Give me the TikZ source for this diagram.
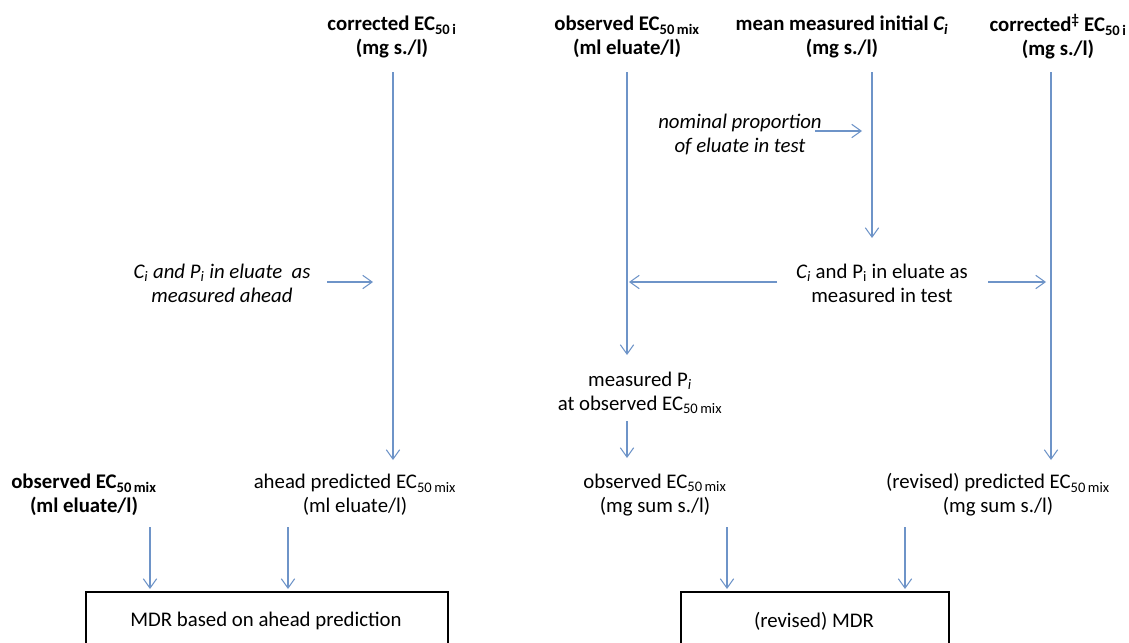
\documentclass[tikz,border=0pt]{standalone}
\usepackage{fontspec}
\setmainfont{Carlito}
\usetikzlibrary{arrows.meta}
\definecolor{arrowblue}{RGB}{110,148,200}
\tikzset{
  lbl/.style={align=center, inner sep=0pt, font=\fontsize{15.6}{18}\selectfont},
  blbl/.style={lbl, font=\fontsize{15.6}{18}\selectfont\bfseries},
  ilbl/.style={lbl, font=\fontsize{15.6}{18}\selectfont\itshape},
  conn/.style={draw=arrowblue, line width=0.8pt, -{Straight Barb[length=7pt,width=10pt,line width=0.8pt]}},
  resbox/.style={draw=black, line width=1.5pt, minimum height=0pt}
}
\newcommand{\ECsub}[1]{EC\textsubscript{50\,#1}}
\begin{document}
\begin{tikzpicture}[x=0.75pt,y=-0.75pt]
\useasboundingbox (0,0) rectangle (1129,643);
\clip (0,0) rectangle (1129,643);
% top labels
\node[blbl] (tA) at (392,37) {corrected \ECsub{i}\\(mg s./l)};
\node[blbl] (tB) at (627,37) {observed \ECsub{mix}\\(ml eluate/l)};
\node[blbl] (tC) at (842,37) {mean measured initial \textit{C\textsubscript{i}}\\(mg s./l)};
\node[blbl] (tD) at (1058,37) {corrected\textsuperscript{‡} \ECsub{i}\\(mg s./l)};
% side labels
\node[ilbl] (nom) at (740,134) {nominal proportion\\of eluate in test};
\node[ilbl] (ahd) at (222,283) {\textit{C}\textsubscript{i} and \textit{P}\textsubscript{i} in eluate\ \ as\\measured ahead};
\node[lbl] (tst) at (882,283) {\textit{C\textsubscript{i}} and P\textsubscript{i} in eluate as\\measured in test};
\node[lbl] (mP) at (640,393) {measured P\textsubscript{\textit{i}}\\at observed \ECsub{mix}};
% bottom labels
\node[blbl] (bA) at (84,495) {observed \ECsub{mix}\\(ml eluate/l)};
\node[lbl] (bB) at (355,495) {ahead predicted \ECsub{mix}\\(ml eluate/l)};
\node[lbl] (bC) at (655,495) {observed \ECsub{mix}\\(mg sum s./l)};
\node[lbl] (bD) at (998,495) {(revised) predicted \ECsub{mix}\\(mg sum s./l)};
% result boxes
\node[resbox, minimum width=362*0.75pt, minimum height=120*0.75pt, anchor=north west, inner sep=0pt] (mdr1) at (85,591) {};
\node[lbl] (mdr1t) at (266,621) {MDR\ based on ahead prediction};
\node[resbox, minimum width=268*0.75pt, minimum height=120*0.75pt, anchor=north west, inner sep=0pt] (mdr2) at (680,591) {};
\node[lbl] (mdr2t) at (814,621) {(revised) MDR};
% coordinates for connector ends
\coordinate (a1) at (393,72);  \coordinate (a2) at (393,460);
\coordinate (b1) at (627,72);  \coordinate (b2) at (627,355);
\coordinate (c1) at (872,72);  \coordinate (c2) at (872,238);
\coordinate (d1) at (1051,72); \coordinate (d2) at (1051,460);
\coordinate (n1) at (815,131); \coordinate (n2) at (862,131);
\coordinate (h1) at (327,282); \coordinate (h2) at (373,282);
\coordinate (t1) at (777,282); \coordinate (t2) at (629,282);
\coordinate (t3) at (988,282); \coordinate (t4) at (1046,282);
\coordinate (m1) at (627,421); \coordinate (m2) at (627,458);
\coordinate (e1) at (150,527); \coordinate (e2) at (150,589);
\coordinate (f1) at (288,527); \coordinate (f2) at (288,589);
\coordinate (g1) at (727,527); \coordinate (g2) at (727,589);
\coordinate (k1) at (905,527); \coordinate (k2) at (905,589);
% connectors
\draw[conn] (a1) -- (a2);
\draw[conn] (b1) -- (b2);
\draw[conn] (c1) -- (c2);
\draw[conn] (d1) -- (d2);
\draw[conn] (n1) -- (n2);
\draw[conn] (h1) -- (h2);
\draw[conn] (t1) -- (t2);
\draw[conn] (t3) -- (t4);
\draw[conn] (m1) -- (m2);
\draw[conn] (e1) -- (e2);
\draw[conn] (f1) -- (f2);
\draw[conn] (g1) -- (g2);
\draw[conn] (k1) -- (k2);
\end{tikzpicture}
\end{document}
